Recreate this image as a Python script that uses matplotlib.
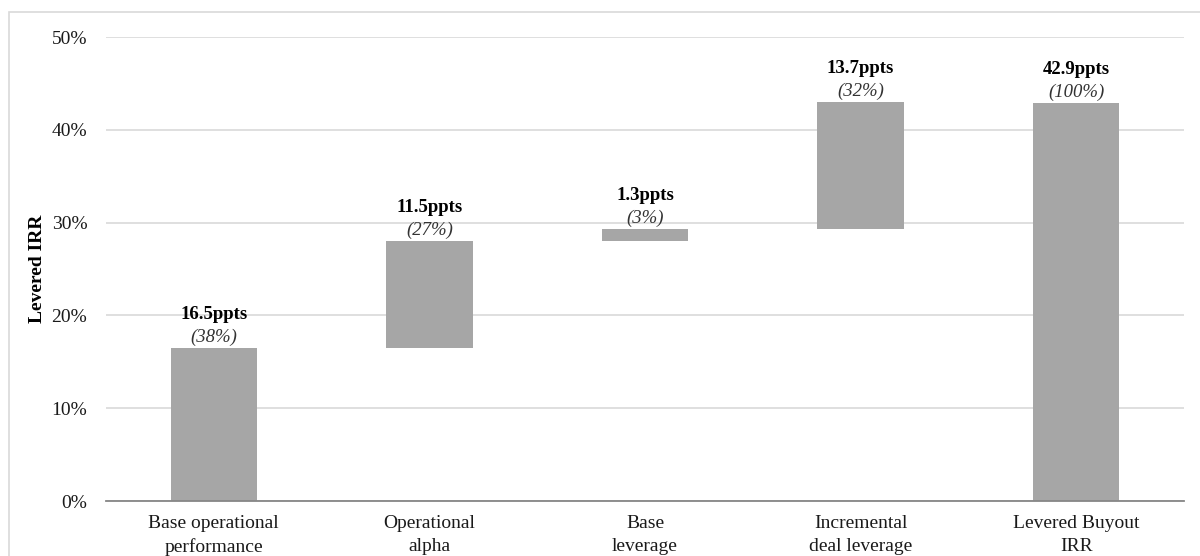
import matplotlib
matplotlib.use("Agg")
import matplotlib.pyplot as plt
from matplotlib.patches import Rectangle
from matplotlib.ticker import FuncFormatter

categories = ["Base operational\nperformance", "Operational\nalpha", "Base\nleverage",
              "Incremental\ndeal leverage", "Levered Buyout\nIRR"]
increments = [16.5, 11.5, 1.3, 13.7]
total = 42.9
shares = ["38%", "27%", "3%", "32%", "100%"]
yticks = [0, 10, 20, 30, 40, 50]

plt.rcParams["font.family"] = ["Liberation Serif", "DejaVu Serif"]

W, H = 1200, 556
fig = plt.figure(figsize=(W / 100, H / 100), dpi=100)
ax = fig.add_axes([106 / W, 1 - 501 / H, (1184 - 106) / W, (501 - 37) / H])

# waterfall: each step floats on the running total, the last bar starts at zero
bottoms, heights = [], []
running = 0.0
for v in increments:
    bottoms.append(running)
    heights.append(v)
    running += v
bottoms.append(0.0)
heights.append(total)
values = increments + [total]

x = list(range(len(categories)))
ax.bar(x, heights, bottom=bottoms, width=0.4, color="#a6a6a6", zorder=3)

for xi, b, h, v, s in zip(x, bottoms, heights, values, shares):
    top = b + h
    ax.annotate(f"{v:.1f}ppts", (xi, top), xytext=(0, 24), textcoords="offset points",
                ha="center", va="center", fontsize=13.5, fontweight="bold", color="#000000")
    ax.annotate(f"({s})", (xi, top), xytext=(0, 7.5), textcoords="offset points",
                ha="center", va="center", fontsize=13.5, fontstyle="italic", color="#333333")

ax.set_xlim(-0.5, len(categories) - 0.5)
ax.set_ylim(0, 50)
ax.set_yticks(yticks)
ax.yaxis.set_major_formatter(FuncFormatter(lambda v, p: f"{v:.0f}%"))
ax.set_xticks(x)
ax.set_xticklabels(categories, fontsize=14, color="#1a1a1a", linespacing=1.45)
ax.tick_params(axis="y", labelsize=14, labelcolor="#1a1a1a", length=0, pad=13.5)
ax.tick_params(axis="x", length=0, pad=10)
ax.grid(axis="y", color="#d9d9d9", linewidth=1.2, zorder=0)
for side in ["top", "right", "left"]:
    ax.spines[side].set_visible(False)
ax.spines["bottom"].set_color("#868686")
ax.spines["bottom"].set_linewidth(1.3)
ax.spines["bottom"].set_zorder(4)

fig.text(37 / W, 1 - 269 / H, "Levered IRR", rotation=90, ha="center", va="center",
         fontsize=14, fontweight="bold")

# outer chart frame
fig.patches.append(Rectangle((9 / W, -0.1), 1.2, 1 - 12 / H + 0.1, transform=fig.transFigure,
                             fill=False, edgecolor="#d9d9d9", linewidth=1.2))

fig.savefig("out.png", dpi=100)
